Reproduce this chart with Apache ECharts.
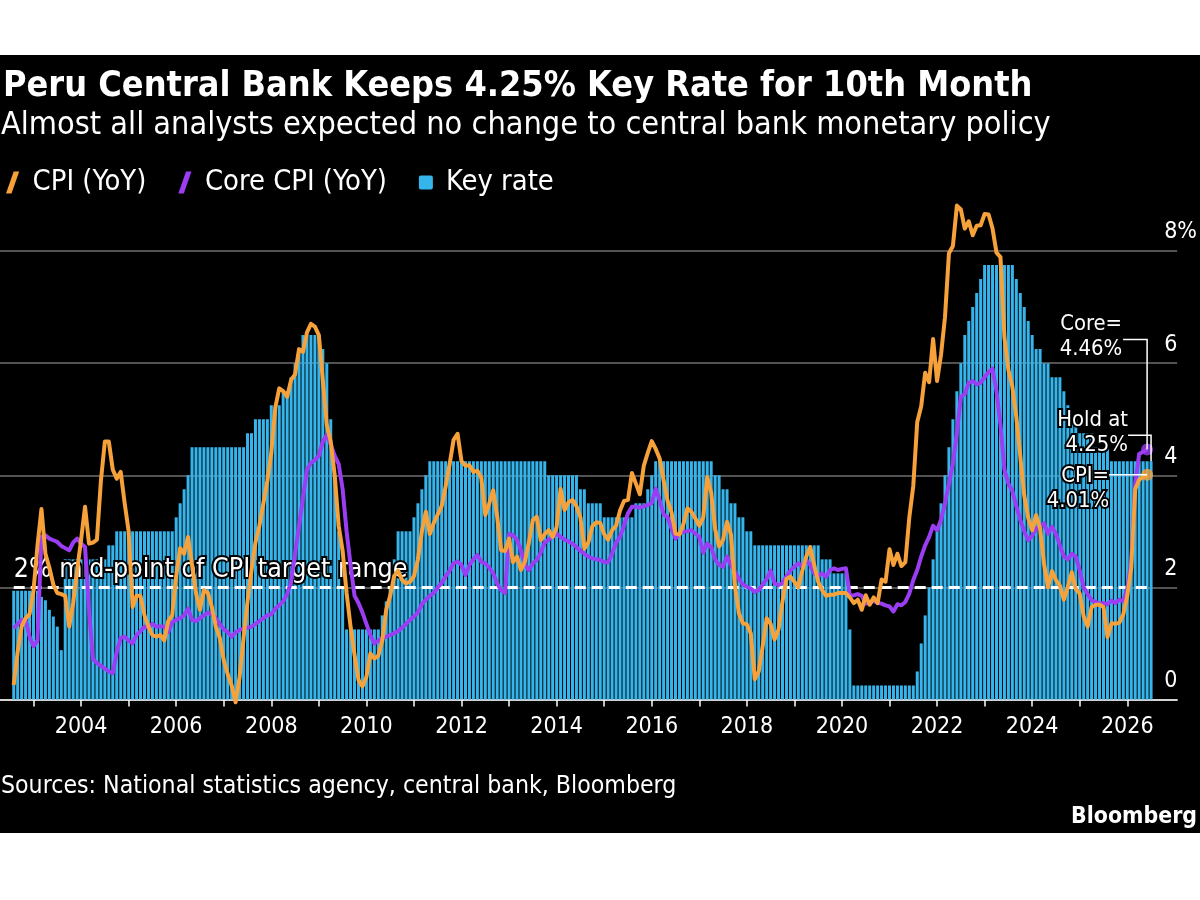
<!DOCTYPE html>
<html><head><meta charset="utf-8">
<script src="https://cdn.jsdelivr.net/npm/echarts@6/dist/echarts.min.js"></script>
<style>
html,body{margin:0;padding:0;background:#fff}
#c{width:1200px;height:900px;background:linear-gradient(#fff 0,#fff 55px,#000 55px,#000 833px,#fff 833px,#fff 900px)}
</style>
</head><body><div id="c"></div>
<script>
// ---------- DATA ----------
const titleText = 'Peru Central Bank Keeps 4.25% Key Rate for 10th Month';
const subtitleText = 'Almost all analysts expected no change to central bank monetary policy';
const sourceText = 'Sources: National statistics agency, central bank, Bloomberg';
const seriesNames = ['CPI (YoY)', 'Core CPI (YoY)', 'Key rate'];
const startYear = 2002, startMonth = 8;   // first monthly observation (Aug 2002)
const targetMid = 2;
const targetLabel = '2% mid-point of CPI target range';

// CPI YoY %, Aug 2002 .. Jun 2026
const cpi = [
  0.26, 0.85, 1.30, 1.45, 1.52,                                        // 2002 Aug-Dec
  1.95, 2.75, 3.40, 2.60, 2.35, 2.05, 1.90, 1.88, 1.85, 1.30, 1.72, 2.30, // 2003
  2.85, 3.44, 2.78, 2.80, 2.85, 3.90, 4.60, 4.60, 4.10, 3.94, 4.06, 3.50, // 2004
  3.00, 1.65, 1.85, 1.85, 1.50, 1.30, 1.15, 1.12, 1.15, 1.05, 1.40, 1.50, // 2005
  2.20, 2.70, 2.60, 2.90, 2.40, 1.90, 1.60, 1.95, 1.90, 1.65, 1.30, 1.10, // 2006
  0.70, 0.45, 0.25, -0.05, 0.40, 1.10, 1.75, 2.30, 2.80, 3.10, 3.50, 3.90, // 2007
  4.40, 5.20, 5.55, 5.50, 5.40, 5.70, 5.80, 6.25, 6.20, 6.55, 6.70, 6.65, // 2008
  6.50, 5.70, 4.90, 4.60, 4.00, 3.10, 2.65, 1.90, 1.30, 0.80, 0.35, 0.23, // 2009
  0.40, 0.82, 0.73, 0.78, 1.05, 1.60, 1.85, 2.20, 2.30, 2.13, 2.07, 2.10, // 2010
  2.20, 2.50, 3.00, 3.35, 2.95, 3.15, 3.30, 3.45, 3.80, 4.20, 4.63, 4.74, // 2011
  4.25, 4.17, 4.18, 4.06, 4.08, 3.95, 3.29, 3.50, 3.73, 3.26, 2.66, 2.65, // 2012
  2.87, 2.45, 2.55, 2.31, 2.46, 2.80, 3.20, 3.26, 2.84, 2.95, 3.02, 2.90, // 2013
  3.07, 3.76, 3.38, 3.52, 3.56, 3.45, 3.25, 2.69, 2.80, 3.09, 3.16, 3.15, // 2014
  2.95, 2.85, 3.02, 3.10, 3.37, 3.54, 3.56, 4.04, 3.85, 3.66, 4.17, 4.40, // 2015
  4.61, 4.47, 4.30, 3.91, 3.54, 3.34, 2.96, 2.94, 3.13, 3.41, 3.35, 3.23, // 2016
  3.10, 3.25, 3.97, 3.69, 3.04, 2.73, 2.85, 3.17, 2.94, 2.04, 1.54, 1.36, // 2017
  1.34, 1.18, 0.36, 0.50, 0.95, 1.45, 1.35, 1.07, 1.25, 1.75, 2.15, 2.19, // 2018
  2.10, 2.00, 2.30, 2.55, 2.72, 2.40, 2.10, 1.95, 1.85, 1.87, 1.87, 1.90, // 2019
  1.90, 1.90, 1.82, 1.72, 1.78, 1.60, 1.86, 1.69, 1.82, 1.72, 2.14, 2.10, // 2020
  2.68, 2.40, 2.60, 2.38, 2.45, 3.25, 3.81, 4.95, 5.23, 5.83, 5.66, 6.43, // 2021
  5.68, 6.15, 6.82, 7.96, 8.09, 8.81, 8.74, 8.40, 8.53, 8.28, 8.45, 8.46, // 2022
  8.66, 8.65, 8.40, 7.97, 7.89, 6.46, 5.88, 5.58, 5.04, 4.34, 3.64, 3.24, // 2023
  3.02, 3.29, 3.05, 2.42, 2.00, 2.29, 2.13, 2.03, 1.78, 2.01, 2.27, 1.97, // 2024
  1.89, 1.48, 1.30, 1.65, 1.69, 1.69, 1.65, 1.11, 1.36, 1.35, 1.37, 1.52, // 2025
  1.85, 2.35, 3.75, 3.92, 3.97, 4.01                                    // 2026 Jan-Jun
];

// Core CPI YoY %, Aug 2002 .. Jun 2026
const core = [
  1.27, 1.35, 1.42, 1.42, 1.12,                                        // 2002
  0.95, 1.05, 2.90, 2.93, 2.87, 2.84, 2.81, 2.74, 2.70, 2.66, 2.80, 2.87, // 2003
  2.78, 2.72, 1.60, 0.72, 0.65, 0.60, 0.55, 0.50, 0.47, 0.85, 1.10, 1.12, // 2004
  1.05, 1.00, 1.15, 1.22, 1.30, 1.28, 1.35, 1.30, 1.30, 1.30, 1.20, 1.38, // 2005
  1.42, 1.45, 1.50, 1.62, 1.42, 1.40, 1.45, 1.50, 1.55, 1.52, 1.45, 1.35, // 2006
  1.25, 1.20, 1.12, 1.20, 1.24, 1.27, 1.28, 1.30, 1.35, 1.40, 1.45, 1.50, // 2007
  1.52, 1.62, 1.68, 1.75, 1.88, 2.10, 2.60, 3.10, 3.60, 4.10, 4.22, 4.27, // 2008
  4.35, 4.60, 4.72, 4.55, 4.35, 4.20, 3.75, 3.00, 2.40, 1.85, 1.72, 1.55, // 2009
  1.35, 1.15, 1.00, 1.05, 1.10, 1.12, 1.15, 1.18, 1.22, 1.28, 1.35, 1.42, // 2010
  1.48, 1.55, 1.70, 1.78, 1.85, 1.90, 2.00, 2.08, 2.20, 2.30, 2.43, 2.46, // 2011
  2.40, 2.22, 2.40, 2.50, 2.58, 2.45, 2.43, 2.35, 2.25, 2.07, 1.95, 1.90, // 2012
  2.95, 2.93, 2.85, 2.66, 2.40, 2.31, 2.43, 2.49, 2.62, 2.80, 2.85, 2.90, // 2013
  2.96, 2.90, 2.85, 2.82, 2.78, 2.72, 2.65, 2.60, 2.55, 2.52, 2.50, 2.49, // 2014
  2.45, 2.45, 2.60, 2.80, 2.90, 3.10, 3.32, 3.44, 3.44, 3.42, 3.45, 3.47, // 2015
  3.50, 3.76, 3.55, 3.30, 3.25, 3.05, 2.87, 2.95, 2.99, 3.00, 3.02, 2.96, // 2016
  2.90, 2.62, 2.78, 2.72, 2.50, 2.40, 2.37, 2.55, 2.40, 2.28, 2.15, 2.05, // 2017
  2.01, 1.98, 1.92, 1.95, 2.05, 2.15, 2.30, 2.07, 2.04, 2.08, 2.20, 2.30, // 2018
  2.37, 2.43, 2.37, 2.49, 2.40, 2.25, 2.20, 2.25, 2.19, 2.31, 2.34, 2.31, // 2019
  2.33, 2.34, 1.85, 1.86, 1.88, 1.85, 1.71, 1.72, 1.76, 1.72, 1.71, 1.68, // 2020
  1.66, 1.57, 1.70, 1.68, 1.74, 1.89, 2.13, 2.31, 2.55, 2.75, 2.90, 3.10, // 2021
  3.02, 3.20, 3.50, 3.85, 4.21, 4.75, 5.40, 5.45, 5.65, 5.68, 5.62, 5.65, // 2022
  5.75, 5.84, 5.90, 5.50, 4.90, 4.10, 3.85, 3.72, 3.45, 3.20, 3.00, 2.84, // 2023
  2.92, 3.05, 3.10, 3.14, 2.96, 3.08, 2.95, 2.75, 2.55, 2.50, 2.60, 2.55, // 2024
  2.30, 2.00, 1.88, 1.77, 1.74, 1.71, 1.72, 1.70, 1.76, 1.72, 1.78, 1.75, // 2025
  1.98, 2.45, 3.85, 4.38, 4.42, 4.46                                    // 2026 Jan-Jun
];

// Key policy rate %, Aug 2002 .. Jul 2026
const keyRate = [
  1.94, 1.94, 1.94, 1.94, 1.94,                                        // 2002
  1.94, 1.94, 1.83, 1.77, 1.60, 1.48, 1.30, 0.88, 2.50, 2.50, 2.50, 2.50, // 2003
  2.50, 2.50, 2.50, 2.50, 2.50, 2.50, 2.50, 2.75, 2.75, 3.00, 3.00, 3.00, // 2004
  3.00, 3.00, 3.00, 3.00, 3.00, 3.00, 3.00, 3.00, 3.00, 3.00, 3.00, 3.00, // 2005
  3.25, 3.50, 3.75, 4.00, 4.50, 4.50, 4.50, 4.50, 4.50, 4.50, 4.50, 4.50, // 2006
  4.50, 4.50, 4.50, 4.50, 4.50, 4.50, 4.75, 4.75, 5.00, 5.00, 5.00, 5.00, // 2007
  5.25, 5.25, 5.25, 5.50, 5.50, 5.75, 6.00, 6.25, 6.50, 6.50, 6.50, 6.50, // 2008
  6.50, 6.25, 6.00, 5.00, 4.00, 3.00, 2.00, 1.25, 1.25, 1.25, 1.25, 1.25, // 2009
  1.25, 1.25, 1.25, 1.25, 1.50, 1.75, 2.00, 2.50, 3.00, 3.00, 3.00, 3.00, // 2010
  3.25, 3.50, 3.75, 4.00, 4.25, 4.25, 4.25, 4.25, 4.25, 4.25, 4.25, 4.25, // 2011
  4.25, 4.25, 4.25, 4.25, 4.25, 4.25, 4.25, 4.25, 4.25, 4.25, 4.25, 4.25, // 2012
  4.25, 4.25, 4.25, 4.25, 4.25, 4.25, 4.25, 4.25, 4.25, 4.25, 4.00, 4.00, // 2013
  4.00, 4.00, 4.00, 4.00, 4.00, 4.00, 3.75, 3.75, 3.50, 3.50, 3.50, 3.50, // 2014
  3.25, 3.25, 3.25, 3.25, 3.25, 3.25, 3.25, 3.25, 3.50, 3.50, 3.50, 3.75, // 2015
  4.00, 4.25, 4.25, 4.25, 4.25, 4.25, 4.25, 4.25, 4.25, 4.25, 4.25, 4.25, // 2016
  4.25, 4.25, 4.25, 4.25, 4.00, 4.00, 3.75, 3.75, 3.50, 3.50, 3.25, 3.25, // 2017
  3.00, 3.00, 2.75, 2.75, 2.75, 2.75, 2.75, 2.75, 2.75, 2.75, 2.75, 2.75, // 2018
  2.75, 2.75, 2.75, 2.75, 2.75, 2.75, 2.75, 2.50, 2.50, 2.50, 2.25, 2.25, // 2019
  2.25, 2.25, 1.25, 0.25, 0.25, 0.25, 0.25, 0.25, 0.25, 0.25, 0.25, 0.25, // 2020
  0.25, 0.25, 0.25, 0.25, 0.25, 0.25, 0.25, 0.50, 1.00, 1.50, 2.00, 2.50, // 2021
  3.00, 3.50, 4.00, 4.50, 5.00, 5.50, 6.00, 6.50, 6.75, 7.00, 7.25, 7.50, // 2022
  7.75, 7.75, 7.75, 7.75, 7.75, 7.75, 7.75, 7.75, 7.50, 7.25, 7.00, 6.75, // 2023
  6.50, 6.25, 6.25, 6.00, 6.00, 5.75, 5.75, 5.75, 5.50, 5.25, 5.00, 5.00, // 2024
  4.75, 4.75, 4.75, 4.75, 4.50, 4.50, 4.50, 4.50, 4.25, 4.25, 4.25, 4.25, // 2025
  4.25, 4.25, 4.25, 4.25, 4.25, 4.25, 4.25                              // 2026 Jan-Jul
];

const yTicks = [0, 2, 4, 6, 8];
const tickYears = [];  for (let y = 2003; y <= 2026; y++) tickYears.push(y);
const labelYears = []; for (let y = 2004; y <= 2026; y += 2) labelYears.push(y);

// ---------- STYLE ----------
const ORANGE = '#f7a13a', PURPLE = '#9b3df2', BLUE = '#36b5ec', GRID = '#6e6e6e';
const FAM = '"DejaVu Sans Condensed", "Liberation Sans", sans-serif';

function fitFont(text, weight, targetW) {
  const ctx = document.createElement('canvas').getContext('2d');
  ctx.font = weight + ' 100px ' + FAM;
  return 100 * targetW / ctx.measureText(text).width;
}
const monthsSince2000 = i => (startYear - 2000) * 12 + (startMonth - 1) + i;  // x at start of month
const toPairs = arr => arr.map((v, i) => [monthsSince2000(i), v]);
const yearToX = y => (y - 2000) * 12;

const chart = echarts.init(document.getElementById('c'), null, {renderer: 'canvas'});
const titleSize = fitFont(titleText, 'bold', 1030);
const subSize = fitFont(subtitleText, 'normal', 1050);
const srcSize = fitFont(sourceText, 'normal', 676);
const bbSize = fitFont('Bloomberg', 'bold', 126);
const tgtSize = fitFont(targetLabel, 'normal', 394);
const legSize = fitFont(seriesNames[1], 'normal', 182);
const annSize = fitFont('Core=', 'normal', 62);

const slash = 'path://M0,20 L7,0 L12,0 L5,20 Z';
const square = 'path://M2,0 L12,0 Q14,0 14,2 L14,12 Q14,14 12,14 L2,14 Q0,14 0,12 L0,2 Q0,0 2,0 Z';

const textEl = (id, t, x, y, size, weight, align) => ({
  type: 'text', id: id, x: x, y: y, z: 60,
  style: {text: t, fill: '#fff', font: weight + ' ' + size + 'px ' + FAM, align: align || 'left', verticalAlign: 'middle'}
});

chart.setOption({
  animation: false,
  backgroundColor: 'transparent',
  grid: {left: 0, right: 17, top: 251, bottom: 200.5, containLabel: false},
  legend: {
    left: 1, top: 163, itemWidth: 14, itemHeight: 22, itemGap: 32,
    textStyle: {color: '#fff', fontSize: legSize, fontFamily: FAM, padding: [0, 0, 0, 8]},
    data: [
      {name: seriesNames[0], icon: slash, itemStyle: {color: ORANGE}},
      {name: seriesNames[1], icon: slash, itemStyle: {color: PURPLE}},
      {name: seriesNames[2], icon: square, itemStyle: {color: BLUE}}
    ]
  },
  xAxis: {
    type: 'value', min: 27.54, max: 324.59,
    axisLine: {show: true, onZero: true, lineStyle: {color: '#fff', width: 1.5}},
    axisTick: {show: true, customValues: tickYears.map(yearToX), length: 7, lineStyle: {color: '#fff', width: 1.5}},
    axisLabel: {customValues: labelYears.map(yearToX), formatter: v => String(2000 + Math.round(v / 12)),
      color: '#fff', fontSize: 23, fontFamily: FAM, margin: 16},
    splitLine: {show: false}
  },
  yAxis: {
    type: 'value', position: 'right', min: 0, max: 8, interval: 2,
    axisLine: {show: false}, axisTick: {show: false},
    splitLine: {lineStyle: {color: GRID, width: 1.5}},
    axisLabel: {color: '#fff', fontSize: 23, fontFamily: FAM, margin: -13, align: 'left',
      verticalAlign: 'bottom', padding: [0, 0, 7, 0], formatter: v => v === 8 ? '8%' : String(v)}
  },
  graphic: [
    textEl('title', titleText, 3, 87, titleSize, 'bold'),
    textEl('sub', subtitleText, 1, 126, subSize, 'normal'),
    textEl('src', sourceText, 1, 787, srcSize, 'normal'),
    textEl('bb', 'Bloomberg', 1197, 817, bbSize, 'bold', 'right')
  ],
  series: [
    {
      name: seriesNames[2], type: 'bar', data: toPairs(keyRate), barWidth: 3, z: 2,
      itemStyle: {color: BLUE},
      markLine: {
        silent: true, symbol: ['none', 'none'], z: 3,
        lineStyle: {color: '#fff', type: [11, 6], width: 3},
        label: {show: true, position: 'insideStartTop', formatter: targetLabel, color: '#fff',
          fontSize: tgtSize, fontFamily: FAM, textBorderColor: '#000', textBorderWidth: 4, distance: [0, 4]},
        data: [[{coord: [monthsSince2000(0), targetMid]}, {coord: [monthsSince2000(cpi.length - 1), targetMid]}]]
      }
    },
    {name: seriesNames[1], type: 'line', data: toPairs(core), showSymbol: false, clip: false, z: 4,
      lineStyle: {color: PURPLE, width: 4, join: 'round'}, itemStyle: {color: PURPLE}},
    {name: seriesNames[0], type: 'line', data: toPairs(cpi), showSymbol: false, clip: false, z: 5,
      lineStyle: {color: ORANGE, width: 4, join: 'round'}, itemStyle: {color: ORANGE}},
    {type: 'scatter', z: 6, symbolSize: 12, clip: false,
      data: [
        {value: [monthsSince2000(core.length - 1), core[core.length - 1]], itemStyle: {color: PURPLE}},
        {value: [monthsSince2000(cpi.length - 1), cpi[cpi.length - 1]], itemStyle: {color: ORANGE}}
      ]}
  ]
});

// ---------- end-of-series annotations, placed through the chart's own scales ----------
const pCore = chart.convertToPixel({gridIndex: 0}, [monthsSince2000(core.length - 1), core[core.length - 1]]);
const pCpi = chart.convertToPixel({gridIndex: 0}, [monthsSince2000(cpi.length - 1), cpi[cpi.length - 1]]);
const pRate = chart.convertToPixel({gridIndex: 0}, [monthsSince2000(keyRate.length - 1), keyRate[keyRate.length - 1]]);
const ann = (id, t, x, y) => ({type: 'text', id: id, x: x, y: y, z: 50,
  style: {text: t, fill: '#fff', stroke: '#000', lineWidth: 4, font: annSize + 'px ' + FAM, align: 'right', verticalAlign: 'middle', lineHeight: 25}});
const leader = (id, pts) => ({type: 'polyline', id: id, z: 49, shape: {points: pts}, style: {stroke: '#fff', lineWidth: 1.5, fill: null}});
const f2 = v => v.toFixed(2) + '%';
chart.setOption({graphic: [
  leader('lc', [[pCore[0], pCore[1]], [pCore[0], pCore[1] - 110], [pCore[0] - 24, pCore[1] - 110]]),
  ann('tc', 'Core=\n' + f2(core[core.length - 1]), pCore[0] - 25, pCore[1] - 113),
  leader('lr', [[pRate[0], pRate[1]], [pRate[0], pRate[1] - 26], [pRate[0] - 23, pRate[1] - 26]]),
  ann('tr', 'Hold at\n' + f2(keyRate[keyRate.length - 1]), pRate[0] - 23, pRate[1] - 28),
  leader('lp', [[pCpi[0], pCpi[1]], [pCpi[0] - 38, pCpi[1]]]),
  ann('tp', 'CPI=\n' + f2(cpi[cpi.length - 1]), pCpi[0] - 38, pCpi[1] + 14)
]});
</script>
</body></html>
